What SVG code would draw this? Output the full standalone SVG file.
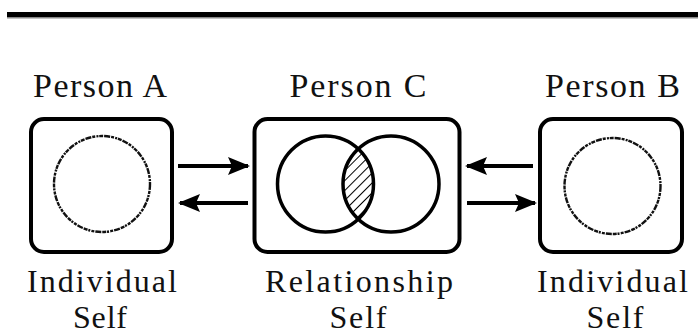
<svg xmlns="http://www.w3.org/2000/svg" width="698" height="335" viewBox="0 0 698 335">
  <style>
    .lbl { font-family: "Liberation Serif", "Times New Roman", "DejaVu Serif", serif; font-size: 34px; fill: #111; text-anchor: middle; }
    .sm { font-size: 32px; }
    .box { fill: none; stroke: #000; stroke-width: 4; }
    .rough { fill: none; stroke: #111; stroke-width: 2.4; stroke-dasharray: 6 1 3 1.2 2 0.8 4 1; }
    .venn { fill: none; stroke: #000; stroke-width: 3.5; }
    .conn { stroke: #000; stroke-width: 4; fill: none; }
  </style>
  <defs>
    <marker id="ah" viewBox="0 0 22 18" refX="20" refY="9" markerWidth="22" markerHeight="18" markerUnits="userSpaceOnUse" orient="auto">
      <path d="M0 0 L22 9 L0 18 L4 9 Z" fill="#000"/>
    </marker>
    <pattern id="hatch" width="7" height="7" patternUnits="userSpaceOnUse" patternTransform="rotate(45)">
      <line x1="0" y1="0" x2="0" y2="7" stroke="#000" stroke-width="2"/>
    </pattern>
  </defs>
  <rect x="7" y="12" width="691" height="5" fill="#000"/>
  <rect x="7" y="17" width="691" height="1.5" fill="#888"/>

  <g id="personA">
    <text class="lbl" x="100" y="97" textLength="134" lengthAdjust="spacing">Person A</text>
    <rect class="box" x="31" y="119" width="141" height="133" rx="13"/>
    <circle class="rough" cx="102" cy="184" r="48"/>
    <text class="lbl sm" x="102" y="292" textLength="150" lengthAdjust="spacing">Individual</text>
    <text class="lbl sm" x="100" y="328" textLength="54" lengthAdjust="spacing">Self</text>
  </g>

  <g id="personC">
    <text class="lbl" x="358" y="97" textLength="137" lengthAdjust="spacing">Person C</text>
    <rect class="box" x="254.5" y="119" width="205" height="133" rx="13"/>
    <path d="M358.25 148.9 A48 48 0 0 1 358.25 219.1 A48 48 0 0 1 358.25 148.9 Z" fill="url(#hatch)"/>
    <circle class="venn" cx="325.5" cy="184" r="48"/>
    <circle class="venn" cx="391" cy="184" r="48"/>
    <text class="lbl sm" x="359" y="292" textLength="188" lengthAdjust="spacing">Relationship</text>
    <text class="lbl sm" x="358" y="328" textLength="57" lengthAdjust="spacing">Self</text>
  </g>

  <g id="personB">
    <text class="lbl" x="612.5" y="97" textLength="135" lengthAdjust="spacing">Person B</text>
    <rect class="box" x="540" y="119" width="142" height="133" rx="13"/>
    <circle class="rough" cx="612.5" cy="186" r="48"/>
    <text class="lbl sm" x="612.5" y="292" textLength="151" lengthAdjust="spacing">Individual</text>
    <text class="lbl sm" x="615" y="328" textLength="57" lengthAdjust="spacing">Self</text>
  </g>

  <g id="connectors">
    <line class="conn" x1="178" y1="166" x2="248" y2="166" marker-end="url(#ah)"/>
    <line class="conn" x1="248" y1="203" x2="180" y2="203" marker-end="url(#ah)"/>
    <line class="conn" x1="533" y1="166" x2="467" y2="166" marker-end="url(#ah)"/>
    <line class="conn" x1="467" y1="203" x2="535" y2="203" marker-end="url(#ah)"/>
  </g>
</svg>
